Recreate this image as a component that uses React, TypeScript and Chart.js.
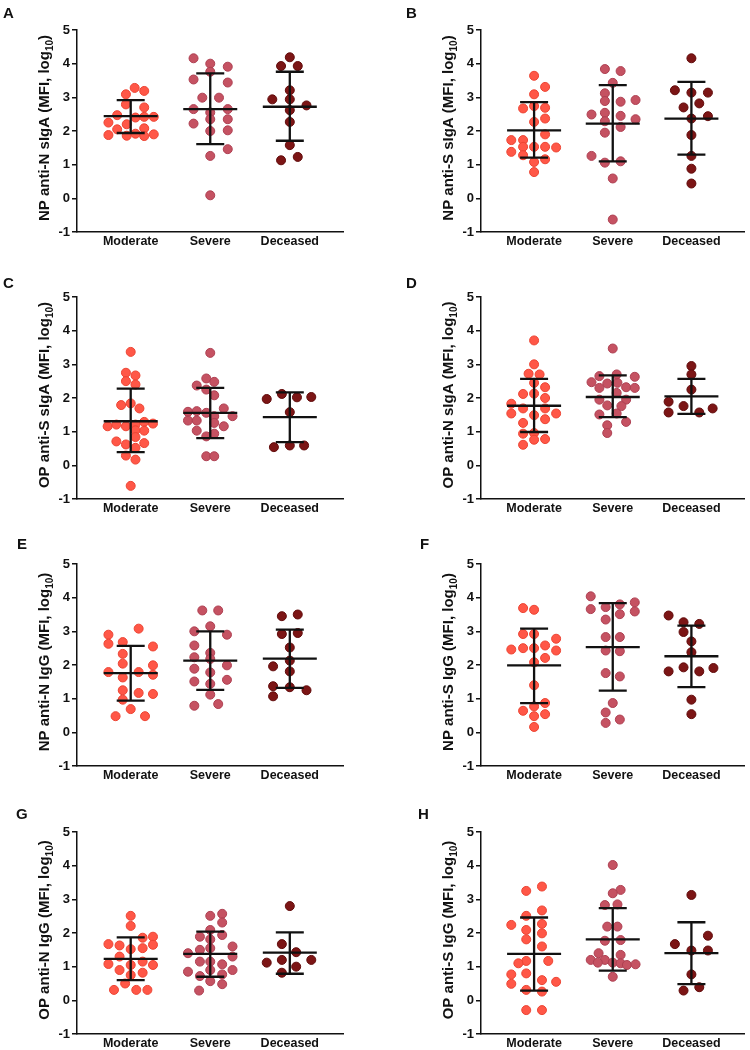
import React, { useEffect, useRef } from 'react';
import { Chart, registerables } from 'chart.js';

Chart.register(...registerables);

const FONT = '"Liberation Sans", Arial, Helvetica, sans-serif';

const CATEGORIES = ['Moderate', 'Severe', 'Deceased'];
const Y_TICKS = [-1, 0, 1, 2, 3, 4, 5];

// each point: [horizontal jitter offset (category units), log10 MFI]
type Pt = [number, number];
// stats per group: [mean, mean - SD, mean + SD]
type St = [number, number, number];

const A_MOD: Pt[] = [[0.05,3.28],[0.17,3.19],[-0.06,3.09],[-0.06,2.79],[0.17,2.70],[-0.17,2.47],[0.06,2.40],[0.17,2.42],[0.29,2.42],[-0.28,2.25],[-0.05,2.20],[-0.17,2.05],[0.17,2.08],[-0.28,1.88],[-0.05,1.86],[0.06,1.92],[0.17,1.85],[0.29,1.90]];
const A_SEV: Pt[] = [[-0.21,4.16],[0,4.0],[0.22,3.91],[0,3.76],[-0.21,3.53],[0.22,3.44],[-0.10,2.99],[0.11,2.99],[-0.21,2.65],[0,2.55],[0.22,2.65],[0,2.35],[0.22,2.35],[-0.21,2.22],[0,2.0],[0.22,2.02],[0.22,1.46],[0,1.26],[0,0.09]];
const A_DEC: Pt[] = [[0,4.19],[-0.11,3.93],[0.10,3.93],[0,3.21],[-0.22,2.94],[0,2.94],[0.21,2.76],[0,2.62],[0,2.27],[0,1.58],[0.10,1.23],[-0.11,1.13]];
const A_STATS: St[] = [[2.44,1.94,2.92],[2.65,1.61,3.71],[2.72,1.71,3.76]];

const B_MOD: Pt[] = [[0,3.64],[0.14,3.31],[0,3.09],[-0.14,2.67],[0,2.74],[0.14,2.69],[0.14,2.37],[0,2.27],[0.14,1.90],[-0.29,1.73],[-0.14,1.73],[-0.29,1.38],[-0.14,1.53],[0,1.53],[0.14,1.53],[0.28,1.51],[-0.14,1.28],[0.14,1.16],[0,1.08],[0,0.78]];
const B_SEV: Pt[] = [[-0.10,3.84],[0.10,3.78],[0,3.43],[-0.10,3.12],[-0.10,2.89],[0.10,2.87],[0.29,2.92],[-0.27,2.49],[-0.10,2.54],[0.10,2.45],[0.29,2.35],[-0.10,2.29],[0.10,2.12],[-0.10,1.95],[-0.27,1.26],[-0.10,1.06],[0.10,1.10],[0,0.59],[0,-0.63]];
const B_DEC: Pt[] = [[0,4.16],[-0.21,3.21],[0,3.14],[0.21,3.14],[-0.10,2.70],[0.10,2.82],[0,2.37],[0.21,2.44],[0,1.88],[0,1.26],[0,0.88],[0,0.44]];
const B_STATS: St[] = [[2.02,1.21,2.86],[2.22,1.10,3.36],[2.37,1.30,3.46]];

const C_MOD: Pt[] = [[0,3.37],[-0.06,2.75],[0.06,2.67],[-0.06,2.50],[0.06,2.40],[-0.12,1.79],[0,1.84],[0.11,1.69],[-0.29,1.16],[-0.18,1.21],[-0.06,1.16],[0.06,1.21],[0.17,1.29],[0.28,1.24],[0.06,1.04],[0.17,1.03],[-0.18,0.71],[-0.06,0.62],[0.06,0.84],[0.17,0.66],[-0.06,0.29],[0.06,0.52],[0.06,0.17],[0,-0.61]];
const C_SEV: Pt[] = [[0,3.34],[-0.05,2.58],[0.05,2.48],[-0.17,2.37],[-0.05,2.25],[0.05,2.08],[-0.28,1.59],[-0.17,1.61],[-0.05,1.56],[0.17,1.69],[0.28,1.46],[-0.28,1.33],[-0.17,1.33],[0.05,1.46],[0.05,1.26],[0.17,1.16],[-0.17,1.03],[-0.05,0.86],[0.05,0.94],[-0.05,0.27],[0.05,0.27]];
const C_DEC: Pt[] = [[-0.29,1.97],[-0.10,2.12],[0.09,2.02],[0.27,2.03],[0,1.58],[-0.20,0.54],[0,0.59],[0.18,0.59]];
const C_STATS: St[] = [[1.31,0.39,2.28],[1.56,0.81,2.30],[1.43,0.69,2.17]];

const D_MOD: Pt[] = [[0,3.71],[0,3.0],[-0.07,2.72],[0.07,2.70],[0,2.45],[0.14,2.32],[-0.14,2.12],[0,2.13],[0.14,2.0],[-0.29,1.83],[-0.14,1.69],[0.14,1.69],[-0.29,1.54],[0,1.49],[0.28,1.54],[0.14,1.37],[-0.14,1.26],[-0.14,0.94],[0,0.96],[0,0.76],[0.14,0.78],[-0.14,0.61]];
const D_SEV: Pt[] = [[0,3.47],[-0.27,2.47],[-0.17,2.65],[-0.07,2.43],[0.06,2.45],[0.05,2.70],[0.28,2.63],[-0.17,2.30],[0.17,2.32],[0.28,2.30],[0.05,2.15],[-0.17,1.95],[0.17,1.95],[-0.07,1.78],[0.11,1.76],[-0.17,1.51],[0.05,1.54],[0.17,1.29],[-0.07,1.19],[-0.07,0.96]];
const D_DEC: Pt[] = [[0,2.95],[0,2.70],[0,2.25],[-0.29,1.89],[-0.10,1.76],[0.27,1.69],[-0.29,1.57],[0.10,1.57]];
const D_STATS: St[] = [[1.77,0.99,2.57],[2.03,1.43,2.67],[2.05,1.53,2.57]];

const E_MOD: Pt[] = [[0.10,3.08],[-0.28,2.90],[-0.10,2.68],[-0.28,2.63],[0.28,2.55],[-0.10,2.33],[-0.10,2.04],[0.28,1.99],[-0.28,1.79],[0.10,1.79],[0.28,1.71],[-0.10,1.63],[-0.10,1.25],[0.10,1.17],[0.28,1.14],[-0.10,0.97],[0,0.69],[-0.19,0.48],[0.18,0.48]];
const E_SEV: Pt[] = [[-0.10,3.62],[0.10,3.62],[0,3.15],[-0.20,3.0],[0.21,2.9],[-0.20,2.58],[0,2.36],[-0.20,2.23],[0,2.18],[-0.20,1.89],[0.21,1.99],[0,1.78],[-0.20,1.51],[0.21,1.56],[0,1.44],[0,1.12],[-0.20,0.79],[0.10,0.84]];
const E_DEC: Pt[] = [[-0.10,3.45],[0.10,3.50],[-0.10,2.92],[0.10,2.95],[0,2.52],[0,2.13],[-0.21,1.96],[0,1.81],[-0.21,1.37],[0,1.34],[0.21,1.25],[-0.21,1.07]];
const E_STATS: St[] = [[1.76,0.94,2.57],[2.13,1.26,3.0],[2.19,1.32,3.05]];

const F_MOD: Pt[] = [[-0.14,3.69],[0,3.64],[-0.14,2.92],[0,2.92],[0.28,2.78],[-0.29,2.46],[-0.14,2.50],[0,2.50],[0.14,2.58],[0.28,2.43],[0.14,2.21],[0,2.08],[0,1.40],[0.14,0.87],[0,0.77],[-0.14,0.64],[0.14,0.54],[0,0.48],[0,0.16]];
const F_SEV: Pt[] = [[-0.28,4.04],[-0.28,3.66],[-0.09,3.72],[0.09,3.80],[0.28,3.86],[0.28,3.59],[0.09,3.51],[-0.09,3.35],[-0.09,2.83],[0.09,2.83],[-0.09,2.43],[0.09,2.41],[-0.09,1.76],[0.09,1.66],[0,0.87],[-0.09,0.59],[-0.09,0.28],[0.09,0.38]];
const F_DEC: Pt[] = [[-0.29,3.47],[-0.10,3.27],[0.10,3.22],[-0.10,2.98],[0,2.70],[0,2.38],[-0.29,1.81],[-0.10,1.93],[0.10,1.81],[0.28,1.91],[0,0.97],[0,0.54]];
const F_STATS: St[] = [[1.99,0.87,3.08],[2.53,1.24,3.84],[2.26,1.34,3.17]];

const G_MOD: Pt[] = [[0,2.51],[0,2.21],[0.28,1.89],[0.15,1.86],[-0.28,1.67],[-0.14,1.63],[0,1.52],[0.15,1.55],[0.28,1.65],[-0.14,1.30],[0.15,1.15],[-0.28,1.08],[0,1.05],[0.28,1.05],[-0.14,0.90],[0.15,0.82],[0,0.75],[-0.07,0.50],[-0.21,0.31],[0.07,0.31],[0.21,0.31]];
const G_SEV: Pt[] = [[0,2.51],[0.15,2.57],[0.15,2.31],[0,2.09],[-0.13,1.89],[0.15,1.94],[0,1.81],[-0.13,1.50],[0,1.55],[0.28,1.60],[-0.28,1.40],[-0.13,1.15],[0,1.15],[0.28,1.30],[0.15,1.07],[-0.28,0.85],[0,0.90],[0.28,0.90],[-0.13,0.72],[0.15,0.77],[0,0.57],[0.15,0.48],[-0.14,0.29]];
const G_DEC: Pt[] = [[0,2.80],[-0.10,1.67],[0.08,1.43],[-0.29,1.12],[-0.10,1.20],[0.27,1.20],[0.08,1.0],[-0.10,0.82]];
const G_STATS: St[] = [[1.23,0.60,1.87],[1.38,0.70,2.04],[1.42,0.79,2.02]];

const H_MOD: Pt[] = [[0.10,3.38],[-0.10,3.25],[0.10,2.67],[-0.10,2.51],[0.10,2.27],[-0.29,2.24],[-0.10,2.09],[0.10,1.99],[-0.10,1.81],[0.10,1.60],[-0.10,1.17],[0.18,1.17],[-0.20,1.10],[-0.29,0.77],[-0.10,0.80],[0.10,0.60],[0.28,0.55],[-0.29,0.49],[-0.10,0.31],[0.10,0.26],[-0.10,-0.29],[0.10,-0.29]];
const H_SEV: Pt[] = [[0,4.02],[0.10,3.28],[0,3.18],[-0.10,2.83],[0.06,2.85],[-0.07,2.19],[0.06,2.19],[-0.10,1.77],[0.10,1.79],[-0.18,1.40],[0.10,1.35],[-0.10,1.20],[-0.28,1.20],[-0.19,1.12],[0,1.12],[0.10,1.10],[0.18,1.05],[0.29,1.07],[0,0.70]];
const H_DEC: Pt[] = [[0,3.13],[0.21,1.92],[-0.21,1.67],[0,1.48],[0.21,1.48],[0,0.77],[-0.10,0.29],[0.10,0.39]];
const H_STATS: St[] = [[1.38,0.29,2.46],[1.81,0.88,2.74],[1.40,0.48,2.32]];

const LETTERS = ['A', 'B', 'C', 'D', 'E', 'F', 'G', 'H'];
const TITLES = ['NP anti-N sIgA', 'NP anti-S sIgA', 'OP anti-S sIgA', 'OP anti-N sIgA', 'NP anti-N IgG', 'NP anti-S IgG', 'OP anti-N IgG', 'OP anti-S IgG'];
const GROUPS: Pt[][][] = [
  [A_MOD, A_SEV, A_DEC], [B_MOD, B_SEV, B_DEC], [C_MOD, C_SEV, C_DEC], [D_MOD, D_SEV, D_DEC],
  [E_MOD, E_SEV, E_DEC], [F_MOD, F_SEV, F_DEC], [G_MOD, G_SEV, G_DEC], [H_MOD, H_SEV, H_DEC],
];
const STATS: St[][] = [A_STATS, B_STATS, C_STATS, D_STATS, E_STATS, F_STATS, G_STATS, H_STATS];

// styling / layout
const FILLS = ['#FF5747', '#C55262', '#7C1515'];
const EDGES = ['#EC4433', '#AE4052', '#610B0B'];
const AXIS_X = [77, 481];
const PLOT_TOP = [30, 297, 564, 832];
const LETTER_POS = [[3, 5], [406, 5], [3, 275], [406, 275], [17, 536], [420, 536], [16, 806], [418, 806]];
const PLOT_W = 268;
const PLOT_H = 202;
const LEFT_SPACE = 77;
const TOP_SPACE = 30;
const CANVAS_H = 260;

function Panel({ idx }: { idx: number }) {
  const ref = useRef<HTMLCanvasElement>(null);
  const col = idx % 2;
  const row = Math.floor(idx / 2);
  const left = AXIS_X[col] - LEFT_SPACE;
  const top = PLOT_TOP[row] - TOP_SPACE;
  const width = Math.min(LEFT_SPACE + PLOT_W + 4, 750 - left);
  const padRight = width - LEFT_SPACE - PLOT_W;

  useEffect(() => {
    const canvas = ref.current;
    if (!canvas) return;
    const stats = STATS[idx];
    const title = TITLES[idx];

    const meanSd = {
      id: 'meanSd',
      afterDatasetsDraw(chart: any) {
        const ctx = chart.ctx;
        const xs = chart.scales.x;
        const ys = chart.scales.y;
        ctx.save();
        ctx.strokeStyle = '#111';
        ctx.lineWidth = 2.3;
        ctx.lineCap = 'butt';
        stats.forEach((s, i) => {
          const cx = xs.getPixelForValue(i);
          const ym = ys.getPixelForValue(s[0]);
          const yl = ys.getPixelForValue(s[1]);
          const yu = ys.getPixelForValue(s[2]);
          ctx.beginPath();
          ctx.moveTo(cx - 27, ym); ctx.lineTo(cx + 27, ym);
          ctx.moveTo(cx, yu); ctx.lineTo(cx, yl);
          ctx.moveTo(cx - 14, yu); ctx.lineTo(cx + 14, yu);
          ctx.moveTo(cx - 14, yl); ctx.lineTo(cx + 14, yl);
          ctx.stroke();
        });
        ctx.restore();
      },
    };

    const yTitle = {
      id: 'yTitle',
      afterDraw(chart: any) {
        const ctx = chart.ctx;
        const a = chart.chartArea;
        const big = `bold 15px ${FONT}`;
        const small = `bold 10px ${FONT}`;
        const main = `${title} (MFI, log`;
        ctx.save();
        ctx.fillStyle = '#111';
        ctx.font = big;
        const w1 = ctx.measureText(main).width;
        const w3 = ctx.measureText(')').width;
        ctx.font = small;
        const w2 = ctx.measureText('10').width;
        const total = w1 + w2 + w3;
        ctx.translate(49, (a.top + a.bottom) / 2 - 3);
        ctx.rotate(-Math.PI / 2);
        ctx.textAlign = 'left';
        ctx.textBaseline = 'alphabetic';
        const x0 = -total / 2;
        ctx.font = big;
        ctx.fillText(main, x0, 0);
        ctx.font = small;
        ctx.fillText('10', x0 + w1, 4);
        ctx.font = big;
        ctx.fillText(')', x0 + w1 + w2, 0);
        ctx.restore();
      },
    };

    const catFont = { family: FONT, size: 12.5, weight: 'bold' as const };
    const yFont = { family: FONT, size: 13, weight: 'bold' as const };

    const chart = new Chart(canvas, {
      type: 'scatter',
      data: {
        datasets: GROUPS[idx].map((pts, i) => ({
          label: CATEGORIES[i],
          data: pts.map(([o, y]) => ({ x: i + o, y })),
          backgroundColor: FILLS[i],
          borderColor: EDGES[i],
          borderWidth: 1,
          pointRadius: 4.5,
          pointHoverRadius: 4.5,
        })),
      },
      options: {
        animation: false,
        responsive: false,
        maintainAspectRatio: false,
        events: [],
        layout: { padding: { top: TOP_SPACE, right: padRight, left: 0, bottom: 0 } },
        plugins: { legend: { display: false }, tooltip: { enabled: false } },
        scales: {
          x: {
            type: 'linear',
            min: -0.675,
            max: 2.675,
            afterBuildTicks: (s: any) => { s.ticks = CATEGORIES.map((_, i) => ({ value: i })); },
            afterFit: (s: any) => { s.height = CANVAS_H - TOP_SPACE - PLOT_H; },
            ticks: {
              callback: (v: any) => CATEGORIES[Math.round(Number(v))] ?? '',
              font: catFont,
              color: '#111',
              padding: 2,
              autoSkip: false,
              maxRotation: 0,
            },
            grid: { display: false, drawTicks: false },
            border: { display: true, color: '#111', width: 1.5 },
          },
          y: {
            min: -1,
            max: 5,
            afterBuildTicks: (s: any) => { s.ticks = Y_TICKS.map((v) => ({ value: v })); },
            afterFit: (s: any) => { s.width = LEFT_SPACE; },
            ticks: { font: yFont, color: '#111', padding: 2, callback: (v: any) => String(v) },
            grid: { display: true, drawOnChartArea: false, drawTicks: true, tickLength: 5, color: '#111', lineWidth: 1.5 },
            border: { display: true, color: '#111', width: 1.5 },
          },
        },
      },
      plugins: [meanSd, yTitle],
    } as any);
    return () => chart.destroy();
  }, [idx]);

  return (
    <canvas
      ref={ref}
      width={width}
      height={CANVAS_H}
      style={{ position: 'absolute', left, top, width, height: CANVAS_H }}
    />
  );
}

export default function App() {
  return (
    <div style={{ position: 'absolute', left: 0, top: 0, width: 750, height: 1050, overflow: 'hidden', background: '#fff' }}>
      {LETTERS.map((l, i) => (
        <Panel key={`p${i}`} idx={i} />
      ))}
      {LETTERS.map((l, i) => (
        <div
          key={`l${i}`}
          style={{
            position: 'absolute',
            left: LETTER_POS[i][0],
            top: LETTER_POS[i][1],
            font: `bold 15px ${FONT}`,
            lineHeight: '15px',
            color: '#111',
          }}
        >
          {l}
        </div>
      ))}
    </div>
  );
}
